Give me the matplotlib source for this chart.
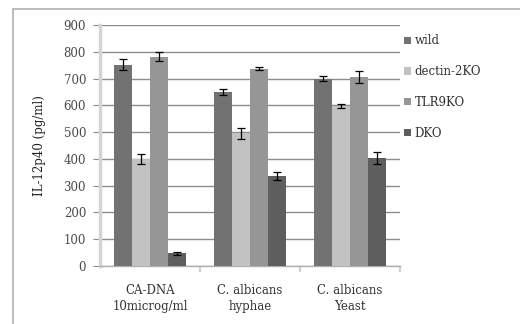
import numpy as np
import matplotlib
matplotlib.use('Agg')
import matplotlib.pyplot as plt
from matplotlib.patches import Rectangle

plt.rcParams['font.family'] = ['DejaVu Serif']

categories = ['CA-DNA\n10microg/ml', 'C. albicans\nhyphae', 'C. albicans\nYeast']
series = ['wild', 'dectin-2KO', 'TLR9KO', 'DKO']
values = {
    'wild':       [752, 650, 700],
    'dectin-2KO': [400, 495, 597],
    'TLR9KO':     [782, 737, 707],
    'DKO':        [47, 335, 403],
}
errors = {
    'wild':       [20, 10, 10],
    'dectin-2KO': [20, 20, 8],
    'TLR9KO':     [18, 5, 22],
    'DKO':        [7, 15, 22],
}
colors = ['#727272', '#c2c2c2', '#969696', '#5e5e5e']
yticks = [0, 100, 200, 300, 400, 500, 600, 700, 800, 900]

fig = plt.figure(figsize=(5.2, 3.24), dpi=100)
fig.patch.set_facecolor('white')

# outer chart frame: only left and top edges fall inside the image
fig.add_artist(Rectangle((13 / 520, -0.1), 1.2, 1.1 - 9 / 324,
                         transform=fig.transFigure, fill=False,
                         edgecolor='#b0b0b0', linewidth=1.2))

ax = fig.add_axes([100 / 520, 1 - 266 / 324, 300 / 520, 241 / 324])

x = np.arange(len(categories))
w = 0.18
for i, (name, col) in enumerate(zip(series, colors)):
    pos = x + (i - 1.5) * w
    ax.bar(pos, values[name], width=w, color=col, label=name, zorder=3,
           edgecolor='none')
    ax.errorbar(pos, values[name], yerr=errors[name], fmt='none',
                ecolor='black', elinewidth=0.9, capsize=3, capthick=0.9,
                zorder=4)

ax.set_xlim(-0.5, 2.5)
ax.set_ylim(0, 900)
ax.set_yticks(yticks)
ax.yaxis.grid(True, color='#8c8c8c', linewidth=1.0, zorder=0)
ax.set_axisbelow(True)

ax.set_xticks(x)
ax.set_xticklabels(categories, fontsize=8.5, color='#333333', linespacing=1.3)
ax.set_xticks([0.5, 1.5, 2.5], minor=True)
ax.tick_params(axis='x', which='major', length=0, pad=13)
ax.tick_params(axis='x', which='minor', length=4, color='#d0d0d0', width=1.5)
ax.tick_params(axis='y', length=5, color='#8c8c8c', labelsize=8.5,
               labelcolor='#4a4a4a', pad=5)

for s in ['top', 'right']:
    ax.spines[s].set_visible(False)
ax.spines['left'].set_color('#d5d5d5')
ax.spines['left'].set_linewidth(2.5)
ax.spines['bottom'].set_color('#b0b0b0')
ax.spines['bottom'].set_linewidth(1.0)

ax.set_ylabel('IL-12p40 (pg/ml)', fontsize=8.5, color='#222222', labelpad=13)

ax.legend(loc='upper left', bbox_to_anchor=(0.99, 0.99), frameon=False,
          fontsize=8.5, handlelength=0.6, handleheight=0.6, handletextpad=0.3,
          labelspacing=1.5, labelcolor='#333333', borderaxespad=0.2)

fig.savefig('out.png', dpi=100, facecolor='white')
